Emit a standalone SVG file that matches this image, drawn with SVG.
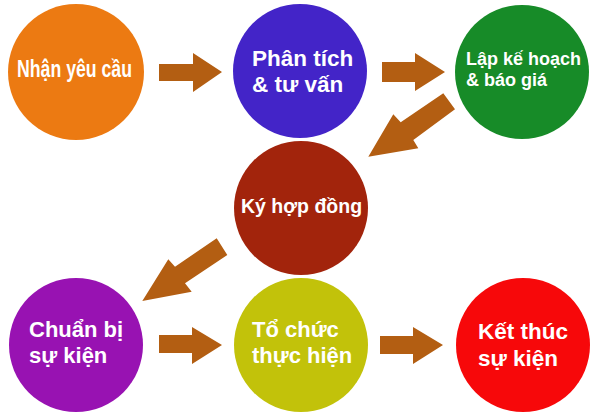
<svg xmlns="http://www.w3.org/2000/svg" width="600" height="416" viewBox="0 0 600 416">
<style>
.t{font-family:"Liberation Sans",Arial,sans-serif;font-weight:bold;fill:#fff}
.a{fill:#B35E12}
</style>
<rect width="600" height="416" fill="#fff"/>
<g id="connectors">
<polygon class="a" points="159,64 193,64 193,53 222,72 193,92 193,81 159,81"/>
<polygon class="a" points="382,62 415,62 415,53 445,72 415,91 415,82 382,82"/>
<polygon class="a" points="443.3,93.3 455,109.3 413.3,140 418.3,148.3 368.3,156.7 393.3,114.3 400.7,122.3"/>
<polygon class="a" points="216.7,238.3 227.3,255 185,283.3 191.7,291.7 142.3,301 168.3,259.3 175,266.7"/>
<polygon class="a" points="159,335 192,335 192,327 222,345 192,364 192,353 159,353"/>
<polygon class="a" points="380,336 413,336 413,327 443,345 413,364 413,354 380,354"/>
</g>
<g id="n1">
<circle cx="76" cy="72" r="68" fill="#EC7A12"/>
<text class="t" x="17" y="77" font-size="23" textLength="115" lengthAdjust="spacingAndGlyphs">Nhận yêu cầu</text>
</g>
<g id="n2">
<circle cx="300" cy="71" r="67" fill="#4324C8"/>
<text class="t" x="252" y="66" font-size="22.5">Phân tích</text>
<text class="t" x="252" y="92" font-size="22.5">&amp; tư vấn</text>
</g>
<g id="n3">
<circle cx="522" cy="72" r="67" fill="#178B28"/>
<text class="t" x="466" y="65" font-size="18">Lập kế hoạch</text>
<text class="t" x="466" y="86" font-size="18">&amp; báo giá</text>
</g>
<g id="n4">
<circle cx="301" cy="208" r="67" fill="#A2240C"/>
<text class="t" x="241" y="213" font-size="19.5">Ký hợp đồng</text>
</g>
<g id="n5">
<circle cx="76" cy="345" r="67" fill="#9812B2"/>
<text class="t" x="29" y="337" font-size="22">Chuẩn bị</text>
<text class="t" x="29" y="363" font-size="22">sự kiện</text>
</g>
<g id="n6">
<circle cx="301" cy="345" r="67" fill="#C2C20A"/>
<text class="t" x="252" y="337" font-size="22">Tổ chức</text>
<text class="t" x="252" y="363" font-size="22">thực hiện</text>
</g>
<g id="n7">
<circle cx="523" cy="345" r="67" fill="#F7080A"/>
<text class="t" x="478" y="339" font-size="22.5">Kết thúc</text>
<text class="t" x="478" y="366" font-size="22.5">sự kiện</text>
</g>
</svg>
